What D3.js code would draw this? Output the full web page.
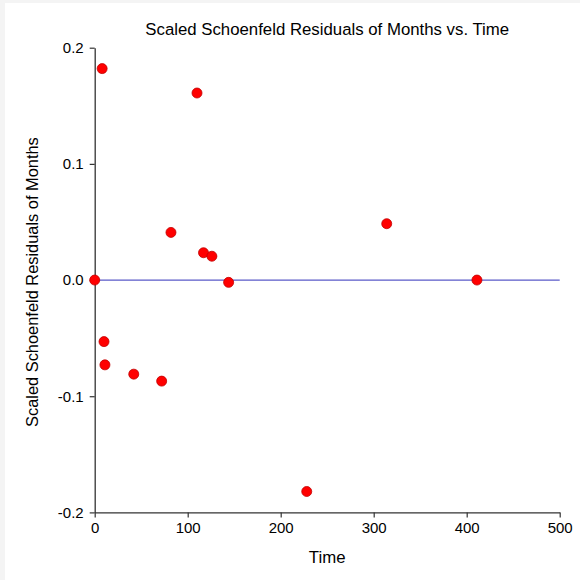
<!DOCTYPE html>
<html>
<head>
<meta charset="utf-8">
<script src="https://cdn.jsdelivr.net/npm/d3@7/dist/d3.min.js"></script>
<style>
  html, body { margin: 0; padding: 0; background: #ffffff; }
  svg { display: block; }
  text { font-family: "Liberation Sans", Arial, sans-serif; fill: #000; }
</style>
</head>
<body>
<svg id="chart" width="580" height="580"></svg>
<script>
const timeValues = [0, 8, 110, 82, 117, 126, 144, 10, 11, 42, 72, 314, 411, 228];
const residualValues = [0.0, 0.182, 0.161, 0.041, 0.0235, 0.0205, -0.002, -0.053, -0.073, -0.081, -0.087, 0.0485, 0.0, -0.182];
const xTicks = [0, 100, 200, 300, 400, 500];
const yTicks = [-0.2, -0.1, 0.0, 0.1, 0.2];
const titleText = "Scaled Schoenfeld Residuals of Months vs. Time";
const xLabel = "Time";
const yLabel = "Scaled Schoenfeld Residuals of Months";

(function () {
const svg = d3.select("#chart");
// light frame
svg.append("rect").attr("x", 0).attr("y", 0).attr("width", 580).attr("height", 3).attr("fill", "#f4f4f4");
svg.append("rect").attr("x", 0).attr("y", 0).attr("width", 5).attr("height", 580).attr("fill", "#f4f4f4");

const mLeft = 94.7, mRight = 559.7, mTop = 47.7, mBottom = 512.4;
const x = d3.scaleLinear().domain([0, 500]).range([mLeft, mRight]);
const y = d3.scaleLinear().domain([-0.2, 0.2]).range([mBottom, mTop]);

// zero reference line
svg.append("line")
  .attr("x1", x(0)).attr("x2", x(500))
  .attr("y1", y(0)).attr("y2", y(0))
  .attr("stroke", "#5a5ac8").attr("stroke-width", 1.2);

// axes
const xAxis = d3.axisBottom(x).tickValues(xTicks).tickFormat(d => String(d)).tickSize(5).tickSizeOuter(0);
const yAxis = d3.axisLeft(y).tickValues(yTicks).tickFormat(d => d.toFixed(1)).tickSize(5).tickSizeOuter(0);

const gx = svg.append("g").attr("transform", `translate(0,${mBottom})`).call(xAxis);
const gy = svg.append("g").attr("transform", `translate(${mLeft},0)`).call(yAxis);
[gx, gy].forEach(g => {
  g.select(".domain").attr("stroke", "#333").attr("stroke-width", 1.3);
  g.selectAll(".tick line").attr("stroke", "#333").attr("stroke-width", 1.2);
  g.selectAll(".tick text").attr("font-size", 15).attr("font-family", "Liberation Sans, Arial, sans-serif").attr("fill", "#222");
});
gx.selectAll(".tick text").attr("dy", "0.71em").attr("y", 10);
gy.selectAll(".tick text").attr("x", -11);

// points
svg.append("g").selectAll("circle")
  .data(timeValues.map((t, i) => [t, residualValues[i]]))
  .join("circle")
  .attr("cx", d => x(d[0]))
  .attr("cy", d => y(d[1]))
  .attr("r", 5)
  .attr("fill", "#ff0000")
  .attr("stroke", "#c00000")
  .attr("stroke-width", 0.8);

// title
svg.append("text")
  .attr("x", (mLeft + mRight) / 2).attr("y", 35)
  .attr("text-anchor", "middle").attr("font-size", 16.8)
  .text(titleText);

// x label
svg.append("text")
  .attr("x", (mLeft + mRight) / 2).attr("y", 563)
  .attr("text-anchor", "middle").attr("font-size", 16.8)
  .text(xLabel);

// y label
svg.append("text")
  .attr("transform", `translate(38,${(mTop + mBottom) / 2 + 2}) rotate(-90)`)
  .attr("text-anchor", "middle").attr("font-size", 16.4)
  .text(yLabel);
})();
</script>
</body>
</html>
